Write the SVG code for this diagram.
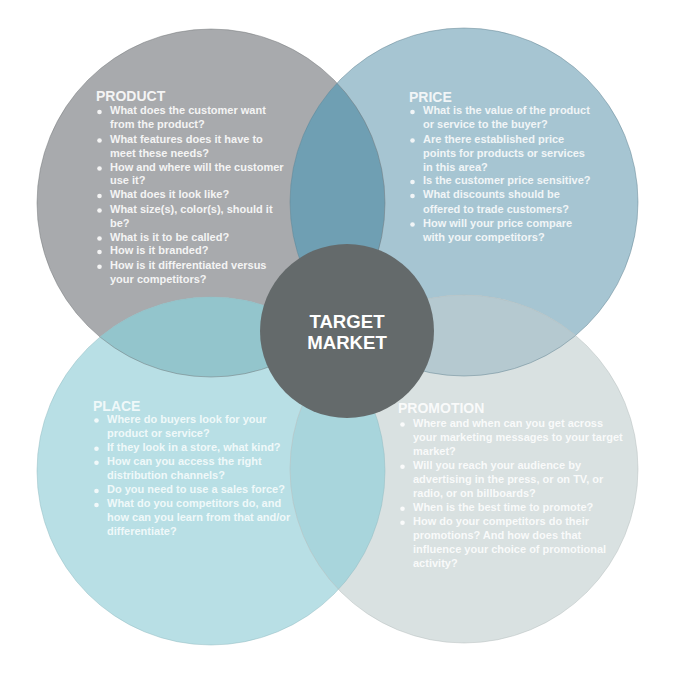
<svg xmlns="http://www.w3.org/2000/svg" width="676" height="673" viewBox="0 0 676 673">
  <defs>
    <clipPath id="cProduct"><circle cx="211" cy="203" r="174"/></clipPath>
    <clipPath id="cPrice"><circle cx="464" cy="202" r="174"/></clipPath>
    <clipPath id="cPlace"><circle cx="211" cy="471" r="174"/></clipPath>
    <clipPath id="cPromo"><circle cx="464" cy="469" r="174"/></clipPath>
  </defs>
  <style>
    .title { font-family: "Liberation Sans", Arial, sans-serif; font-weight: bold; font-size: 14px; }
    .item { font-family: "Liberation Sans", Arial, sans-serif; font-weight: bold; font-size: 11px; }
    .center { font-family: "Liberation Sans", Arial, sans-serif; font-weight: bold; font-size: 18.6px; fill: #ffffff; text-anchor: middle; }
    .edge { fill: none; stroke-width: 0.8; }
  </style>
  <rect width="676" height="673" fill="#ffffff"/>

  <g id="circles">
    <circle cx="211" cy="203" r="174" fill="#a8aaad"/>
    <circle cx="464" cy="202" r="174" fill="#a6c5d2"/>
    <circle cx="211" cy="471" r="174" fill="#b8dfe5"/>
    <circle cx="464" cy="469" r="174" fill="#d9e1e1"/>
    <g clip-path="url(#cProduct)"><circle cx="464" cy="202" r="174" fill="#6f9fb3"/></g>
    <g clip-path="url(#cProduct)"><circle cx="211" cy="471" r="174" fill="#93c5cc"/></g>
    <g clip-path="url(#cPrice)"><circle cx="464" cy="469" r="174" fill="#b5c9d0"/></g>
    <g clip-path="url(#cPlace)"><circle cx="464" cy="469" r="174" fill="#a8d5dc"/></g>
    <circle class="edge" cx="211" cy="203" r="174" stroke="#6f7377" stroke-opacity="0.6"/>
    <circle class="edge" cx="464" cy="202" r="174" stroke="#5d7f8d" stroke-opacity="0.6"/>
    <circle class="edge" cx="211" cy="471" r="174" stroke="#8fb9c0" stroke-opacity="0.6"/>
    <circle class="edge" cx="464" cy="469" r="174" stroke="#b3bcbc" stroke-opacity="0.6"/>
  </g>

  <g id="product" fill="#f4f4f4">
    <text class="title" x="96" y="101">PRODUCT</text>
    <g class="item">
      <circle cx="99.5" cy="112" r="2.3"/><text x="110" y="114.3">What does the customer want</text>
      <text x="110" y="128.3">from the product?</text>
      <circle cx="99.5" cy="140.5" r="2.3"/><text x="110" y="142.7">What features does it have to</text>
      <text x="110" y="156.7">meet these needs?</text>
      <circle cx="99.5" cy="168.5" r="2.3"/><text x="110" y="170.7">How and where will the customer</text>
      <text x="110" y="184.3">use it?</text>
      <circle cx="99.5" cy="196" r="2.3"/><text x="110" y="198.3">What does it look like?</text>
      <circle cx="99.5" cy="210.5" r="2.3"/><text x="110" y="212.7">What size(s), color(s), should it</text>
      <text x="110" y="226.7">be?</text>
      <circle cx="99.5" cy="238.5" r="2.3"/><text x="110" y="240.7">What is it to be called?</text>
      <circle cx="99.5" cy="252" r="2.3"/><text x="110" y="254.3">How is it branded?</text>
      <circle cx="99.5" cy="266.8" r="2.3"/><text x="110" y="269">How is it differentiated versus</text>
      <text x="110" y="283.3">your competitors?</text>
    </g>
  </g>

  <g id="price" fill="#f1f5f7">
    <text class="title" x="409" y="102">PRICE</text>
    <g class="item">
      <circle cx="412.5" cy="112" r="2.3"/><text x="423" y="114.3">What is the value of the product</text>
      <text x="423" y="128.3">or service to the buyer?</text>
      <circle cx="412.5" cy="140.5" r="2.3"/><text x="423" y="142.7">Are there established price</text>
      <text x="423" y="156.7">points for products or services</text>
      <text x="423" y="170.7">in this area?</text>
      <circle cx="412.5" cy="182" r="2.3"/><text x="423" y="184.3">Is the customer price sensitive?</text>
      <circle cx="412.5" cy="196" r="2.3"/><text x="423" y="198.3">What discounts should be</text>
      <text x="423" y="212.7">offered to trade customers?</text>
      <circle cx="412.5" cy="224.5" r="2.3"/><text x="423" y="226.7">How will your price compare</text>
      <text x="423" y="240.7">with your competitors?</text>
    </g>
  </g>

  <g id="place" fill="#ffffff" fill-opacity="0.8">
    <text class="title" x="93" y="411">PLACE</text>
    <g class="item">
      <circle cx="96.5" cy="420.5" r="2.3"/><text x="107" y="422.7">Where do buyers look for your</text>
      <text x="107" y="436.7">product or service?</text>
      <circle cx="96.5" cy="448.8" r="2.3"/><text x="107" y="451">If they look in a store, what kind?</text>
      <circle cx="96.5" cy="462.8" r="2.3"/><text x="107" y="465">How can you access the right</text>
      <text x="107" y="479">distribution channels?</text>
      <circle cx="96.5" cy="491" r="2.3"/><text x="107" y="493.3">Do you need to use a sales force?</text>
      <circle cx="96.5" cy="505" r="2.3"/><text x="107" y="507.3">What do you competitors do, and</text>
      <text x="107" y="521.3">how can you learn from that and/or</text>
      <text x="107" y="535.3">differentiate?</text>
    </g>
  </g>

  <g id="promotion" fill="#ffffff" fill-opacity="0.85">
    <text class="title" x="398" y="413">PROMOTION</text>
    <g class="item">
      <circle cx="402.5" cy="424.5" r="2.3"/><text x="413" y="426.7">Where and when can you get across</text>
      <text x="413" y="440.7">your marketing messages to your target</text>
      <text x="413" y="455">market?</text>
      <circle cx="402.5" cy="466.8" r="2.3"/><text x="413" y="469">Will you reach your audience by</text>
      <text x="413" y="483.3">advertising in the press, or on TV, or</text>
      <text x="413" y="497.3">radio, or on billboards?</text>
      <circle cx="402.5" cy="508.8" r="2.3"/><text x="413" y="511">When is the best time to promote?</text>
      <circle cx="402.5" cy="522.8" r="2.3"/><text x="413" y="525">How do your competitors do their</text>
      <text x="413" y="539">promotions? And how does that</text>
      <text x="413" y="553.3">influence your choice of promotional</text>
      <text x="413" y="567.3">activity?</text>
    </g>
  </g>

  <g id="target-market">
    <circle cx="347" cy="331" r="87" fill="#646a6b"/>
    <text class="center" x="347" y="328.3">TARGET</text>
    <text class="center" x="347" y="349.3">MARKET</text>
  </g>

  <g id="connectors"/>
</svg>
